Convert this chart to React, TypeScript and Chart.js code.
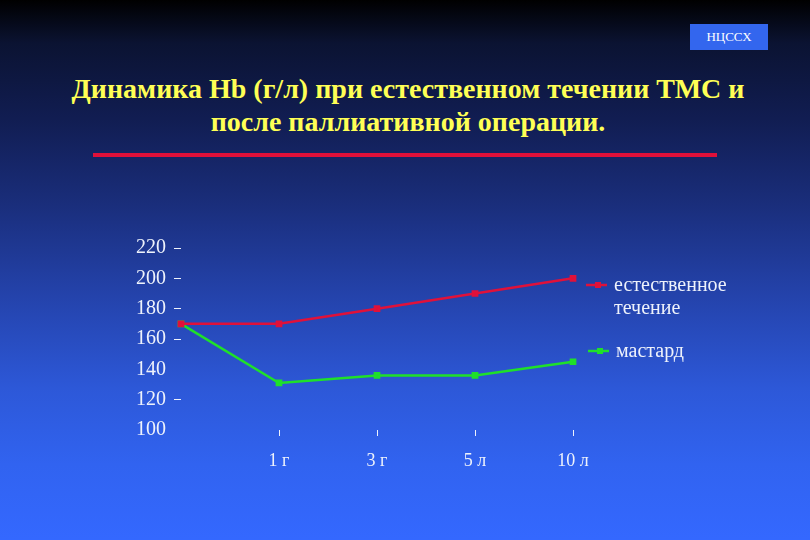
import React, { useEffect, useRef } from 'react';
import { Chart, registerables } from 'chart.js';

Chart.register(...registerables);

const categories = ['', '1 г', '3 г', '5 л', '10 л'];
const naturalCourse = [170, 170, 180, 190, 200];
const mustard = [170, 131, 136, 136, 145];
const seriesLabels = [['естественное', 'течение'], ['мастард']];
const yTicks = [100, 120, 140, 160, 180, 200, 220];

const RED = '#e0113a';
const GREEN = '#1fe02a';
const TEXT = '#eef2fb';
const SERIF = '"Liberation Serif", "DejaVu Serif", serif';

// legend drawn on the canvas, to the right of the plot
const sideLegend = {
  id: 'sideLegend',
  afterDraw(chart: any) {
    const { ctx } = chart;
    const rows = [
      { y: 285, x: 586 },
      { y: 351, x: 588 },
    ];
    ctx.save();
    chart.data.datasets.forEach((ds: any, i: number) => {
      const r = rows[i];
      ctx.strokeStyle = ds.borderColor;
      ctx.fillStyle = ds.borderColor;
      ctx.lineWidth = 2.5;
      ctx.beginPath();
      ctx.moveTo(r.x, r.y);
      ctx.lineTo(r.x + 21, r.y);
      ctx.stroke();
      ctx.fillRect(r.x + 9, r.y - 3, 6, 6);
      ctx.font = `20px ${SERIF}`;
      ctx.fillStyle = TEXT;
      ctx.textBaseline = 'middle';
      const lines: string[] = Array.isArray(ds.label) ? ds.label : [ds.label];
      lines.forEach((t, j) => ctx.fillText(t, r.x + 28, r.y + 1 + j * 23));
    });
    ctx.restore();
  },
};

const HbChart: React.FC = () => {
  const chartRef = useRef<HTMLCanvasElement>(null);
  const chartInstanceRef = useRef<Chart | null>(null);

  useEffect(() => {
    if (!chartRef.current) return;
    if (chartInstanceRef.current) chartInstanceRef.current.destroy();
    const ctx = chartRef.current.getContext('2d');
    if (!ctx) return;

    chartInstanceRef.current = new Chart(ctx, {
      type: 'line',
      data: {
        labels: categories,
        datasets: [
          {
            label: seriesLabels[0] as any,
            data: naturalCourse,
            borderColor: RED,
            backgroundColor: RED,
            borderWidth: 2.5,
            pointStyle: 'rect',
            pointRadius: 3,
            tension: 0,
          },
          {
            label: seriesLabels[1] as any,
            data: mustard,
            borderColor: GREEN,
            backgroundColor: GREEN,
            borderWidth: 2.5,
            pointStyle: 'rect',
            pointRadius: 3,
            tension: 0,
          },
        ],
      },
      options: {
        responsive: false,
        animation: false,
        layout: { padding: { left: 100, right: 237, top: 248, bottom: 60 } },
        plugins: {
          legend: { display: false },
          tooltip: { enabled: false },
        },
        scales: {
          x: {
            offset: false,
            border: { display: false },
            grid: {
              drawOnChartArea: false,
              drawTicks: true,
              tickLength: 6,
              color: (c: any) => (c.index === 0 ? 'rgba(0,0,0,0)' : TEXT),
            },
            ticks: { color: TEXT, padding: 14, font: { family: SERIF, size: 18 } },
            afterFit: (s: any) => { s.height = 50; },
          },
          y: {
            min: yTicks[0],
            max: yTicks[yTicks.length - 1],
            afterBuildTicks: (s: any) => { s.ticks = yTicks.map((v) => ({ value: v })); },
            border: { display: false },
            grid: {
              drawOnChartArea: false,
              drawTicks: true,
              tickLength: 7,
              color: (c: any) =>
                c.tick && (c.tick.value === 140 || c.tick.value === 100) ? 'rgba(0,0,0,0)' : TEXT,
            },
            ticks: { color: TEXT, padding: 8, font: { family: SERIF, size: 20 } },
            afterFit: (s: any) => { s.width = 81; },
          },
        },
      },
      plugins: [sideLegend],
    });

    return () => {
      if (chartInstanceRef.current) chartInstanceRef.current.destroy();
    };
  }, []);

  return <canvas ref={chartRef} width={810} height={540} style={{ position: 'absolute', left: 0, top: 0 }} aria-label="Hb dynamics chart"></canvas>;
};

export default function App() {
  return (
    <div
      style={{
        position: 'fixed',
        left: 0,
        top: 0,
        width: 810,
        height: 540,
        overflow: 'hidden',
        background: 'linear-gradient(to bottom, #000000 0%, #0b1332 8%, #111d52 22%, #1a2e7c 38%, #2443ac 55%, #2d58d8 72%, #3163f0 86%, #3468ff 100%)',
        fontFamily: SERIF,
      }}
    >
      <div
        style={{
          position: 'absolute', left: 690, top: 24, width: 78, height: 26,
          background: '#3366ee', color: '#ffffff', fontSize: 13,
          display: 'flex', alignItems: 'center', justifyContent: 'center',
        }}
      >
        НЦССХ
      </div>
      <div
        style={{
          position: 'absolute', left: 0, top: 72, width: 816, textAlign: 'center',
          color: '#ffff55', fontWeight: 'bold', fontSize: 28, lineHeight: '33px',
        }}
      >
        Динамика Hb (г/л) при естественном течении ТМС и
        <br />
        после паллиативной операции.
      </div>
      <div style={{ position: 'absolute', left: 93, top: 153, width: 624, height: 4, background: '#e0103a' }} />
      <HbChart />
    </div>
  );
}
